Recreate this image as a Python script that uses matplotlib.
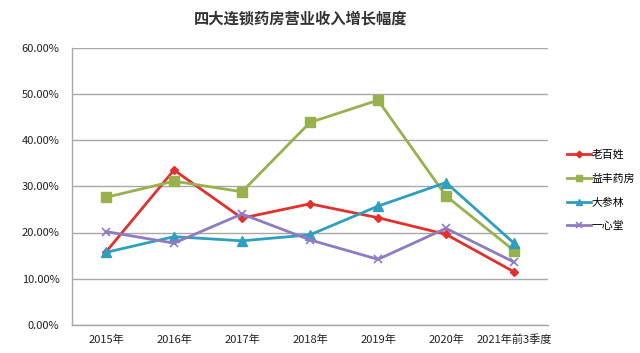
import matplotlib
matplotlib.use("Agg")
import matplotlib.pyplot as plt
from matplotlib.ticker import FuncFormatter

plt.rcParams['font.family'] = ['Noto Sans CJK SC', 'DejaVu Sans']

categories = ['2015年', '2016年', '2017年', '2018年', '2019年', '2020年', '2021年前3季度']
laobaixing = [15.8, 33.5, 23.1, 26.2, 23.2, 19.6, 11.5]
yifeng = [27.6, 31.1, 28.8, 43.8, 48.6, 27.9, 16.1]
dashenlin = [15.7, 19.1, 18.2, 19.5, 25.7, 30.8, 17.7]
yixintang = [20.2, 17.7, 24.0, 18.4, 14.2, 20.9, 13.6]
series_names = ['老百姓', '益丰药房', '大参林', '一心堂']
title = '四大连锁药房营业收入增长幅度'

fig = plt.figure(figsize=(6.4, 3.53), dpi=100)
ax = fig.add_axes([72/640, 1-325/353, (548-72)/640, (325-47.5)/353])

x = list(range(len(categories)))
ax.plot(x, laobaixing, color='#E2312C', lw=2.0, marker='D', ms=4.5, label=series_names[0])
ax.plot(x, yifeng, color='#98B04E', lw=2.0, marker='s', ms=6.5, label=series_names[1])
ax.plot(x, dashenlin, color='#2E9FBF', lw=2.0, marker='^', ms=6.5, label=series_names[2])
ax.plot(x, yixintang, color='#8E7BC2', lw=2.0, marker='x', ms=6, mew=1.2, label=series_names[3])

ax.set_xlim(-0.5, len(categories)-0.5)
ax.set_ylim(0, 60)
ax.set_yticks(range(0, 61, 10))
ax.yaxis.set_major_formatter(FuncFormatter(lambda v, p: f'{v:.2f}%'))
ax.set_xticks(x)
ax.set_xticklabels(categories)
ax.tick_params(axis='both', length=0, labelsize=8, colors='#222222')
ax.tick_params(axis='x', pad=7)
ax.tick_params(axis='y', pad=9)
ax.yaxis.grid(True, color='#A8A8A8', lw=1)
ax.set_axisbelow(True)
for s in ['top', 'right']:
    ax.spines[s].set_visible(False)
for s in ['left', 'bottom']:
    ax.spines[s].set_color('#A8A8A8')
    ax.spines[s].set_linewidth(1)

fig.text(301/640, 1-19/353, title, ha='center', va='center', fontsize=11, fontweight='bold', color='#333333')

leg = ax.legend(loc='center left', bbox_to_anchor=(1.04, 0.485), frameon=False, fontsize=7.8,
                handlelength=2.2, labelspacing=1.25, handletextpad=0.1, borderaxespad=0,
                borderpad=0, markerscale=0.75)

fig.savefig('out.png', dpi=100, facecolor='white')
